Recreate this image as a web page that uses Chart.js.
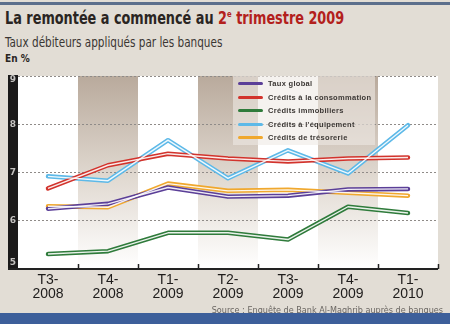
<!DOCTYPE html>
<html>
<head>
<meta charset="utf-8">
<script src="https://cdn.jsdelivr.net/npm/chart.js@4"></script>
<style>
  body { margin: 0; width: 450px; height: 324px; background: #e2ddd5; overflow: hidden; position: relative; font-family: "Liberation Sans", Arial, sans-serif; }
  #filet { position: absolute; left: 0; top: 2px; width: 450px; height: 3px; background: #5c6f8c; }
  #titre { position: absolute; left: 5px; top: 8px; font-family: "DejaVu Sans Condensed", sans-serif; font-weight: bold; font-size: 17px; color: #2a2522; white-space: nowrap; transform-origin: left top; transform: scaleX(0.84); }
  #titre span { color: #b3201c; }
  #titre sup { font-size: 9px; vertical-align: 7px; }
  #soustitre { position: absolute; left: 5px; top: 34px; font-family: "DejaVu Sans Condensed", sans-serif; font-size: 14px; color: #3a3633; white-space: nowrap; transform-origin: left top; transform: scaleX(0.83); }
  #unite { position: absolute; left: 5px; top: 53px; font-family: "DejaVu Sans Condensed", sans-serif; font-weight: bold; font-size: 10px; color: #2a2522; }
  #zone { position: absolute; left: 0; top: 70px; width: 450px; height: 240px; }
  #legende { position: absolute; left: 233px; top: 76px; width: 142px; height: 69px; background: rgba(238, 234, 228, 0.6); }
  .item { position: absolute; left: 5px; height: 12px; font-size: 7.5px; font-weight: bold; color: #3b3734; letter-spacing: 0.3px; white-space: nowrap; }
  .item i { display: inline-block; width: 25px; height: 3px; border-radius: 2px; margin-right: 5px; vertical-align: 1px; }
  #source { position: absolute; right: 7px; top: 305px; font-family: "DejaVu Sans Condensed", sans-serif; font-size: 9px; color: #6a6662; white-space: nowrap; }
  #bandeau { position: absolute; left: 0; top: 313px; width: 450px; height: 11px; background: #3d5f9a; }
</style>
</head>
<body>
<div id="filet"></div>
<div id="titre">La remontée a commencé au <span>2<sup>e</sup> trimestre 2009</span></div>
<div id="soustitre">Taux débiteurs appliqués par les banques</div>
<div id="unite">En %</div>
<div id="zone"><canvas id="graphique" width="450" height="240"></canvas></div>
<div id="legende"></div>
<div id="source">Source : Enquête de Bank Al-Maghrib auprès de banques</div>
<div id="bandeau"></div>
<script>
const trimestres = [['T3-', '2008'], ['T4-', '2008'], ['T1-', '2009'], ['T2-', '2009'], ['T3-', '2009'], ['T4-', '2009'], ['T1-', '2010']];

const tauxGlobal = [6.25, 6.35, 6.69, 6.50, 6.52, 6.65, 6.66];
const creditsConsommation = [6.67, 7.15, 7.39, 7.29, 7.23, 7.29, 7.31];
const creditsImmobiliers = [5.31, 5.37, 5.75, 5.75, 5.61, 6.29, 6.16];
const creditsEquipement = [6.92, 6.83, 7.67, 6.88, 7.46, 6.98, 7.98];
const creditsTresorerie = [6.30, 6.28, 6.77, 6.62, 6.64, 6.58, 6.52];

const series = [
  { label: 'Taux global', data: tauxGlobal, couleur: '#5b3f98' },
  { label: 'Crédits à la consommation', data: creditsConsommation, couleur: '#d2332c' },
  { label: 'Crédits immobiliers', data: creditsImmobiliers, couleur: '#2f7b3b' },
  { label: 'Crédits à l\'équipement', data: creditsEquipement, couleur: '#5db9e8' },
  { label: 'Crédits de trésorerie', data: creditsTresorerie, couleur: '#f0a82e' }
];

// legende en html
const legende = document.getElementById('legende');
series.forEach((s, i) => {
  const d = document.createElement('div');
  d.className = 'item';
  d.style.top = (3 + i * 13.5) + 'px';
  d.innerHTML = '<i style="background:' + s.couleur + '"></i>' + s.label;
  legende.appendChild(d);
});

// fond : bandes grisees, axe noir, graduations
const fond = {
  id: 'fond',
  beforeDraw(chart) {
    const ctx = chart.ctx;
    const a = chart.chartArea;
    const x = chart.scales.x;
    const y = chart.scales.y;
    const pas = x.getPixelForValue(1) - x.getPixelForValue(0);
    ctx.save();
    ctx.fillStyle = '#fff';
    ctx.fillRect(a.left, a.top, a.right - a.left, a.bottom - a.top);
    const grad = ctx.createLinearGradient(0, a.top, 0, a.bottom);
    grad.addColorStop(0, '#b9aa9c');
    grad.addColorStop(0.55, '#e2dbd3');
    grad.addColorStop(1, '#ffffff');
    ctx.fillStyle = grad;
    for (let i = 1; i < trimestres.length; i += 2) {
      ctx.fillRect(x.getPixelForValue(i) - pas / 2, a.top, pas, a.bottom - a.top);
    }
    // bande noire de l'axe y
    ctx.fillStyle = '#1b1a1a';
    ctx.fillRect(8, a.top - 1, a.left - 8, a.bottom - a.top + 2);
    ctx.fillStyle = '#c4c2c0';
    ctx.font = 'bold 9px "DejaVu Sans"';
    ctx.textAlign = 'center';
    ctx.textBaseline = 'middle';
    for (let v = 5; v <= 9; v++) {
      const py = y.getPixelForValue(v) + (v === 5 ? -6 : v === 9 ? 4 : 0);
      ctx.fillText(String(v), 13, py);
    }
    ctx.restore();
  },
  afterDraw(chart) {
    const ctx = chart.ctx;
    const a = chart.chartArea;
    const x = chart.scales.x;
    const pas = x.getPixelForValue(1) - x.getPixelForValue(0);
    ctx.save();
    ctx.strokeStyle = '#222';
    ctx.lineWidth = 2;
    ctx.beginPath();
    ctx.moveTo(8, a.bottom);
    ctx.lineTo(a.right, a.bottom);
    ctx.stroke();
    ctx.lineWidth = 1.5;
    for (let i = 0; i < trimestres.length; i++) {
      const px = Math.round(x.getPixelForValue(i) + pas / 2) + 0.5;
      ctx.beginPath();
      ctx.moveTo(px, a.bottom - 5);
      ctx.lineTo(px, a.bottom);
      ctx.stroke();
    }
    ctx.restore();
  }
};

// trait double : filet blanc au centre de chaque courbe
const traitDouble = {
  id: 'traitDouble',
  afterDatasetsDraw(chart) {
    const ctx = chart.ctx;
    ctx.save();
    ctx.strokeStyle = 'rgba(255,255,255,0.9)';
    ctx.lineWidth = 1.4;
    ctx.lineJoin = 'round';
    chart.data.datasets.forEach((ds, i) => {
      const pts = chart.getDatasetMeta(i).data;
      ctx.beginPath();
      pts.forEach((p, j) => j === 0 ? ctx.moveTo(p.x, p.y) : ctx.lineTo(p.x, p.y));
      ctx.stroke();
    });
    ctx.restore();
  }
};

new Chart(document.getElementById('graphique'), {
  type: 'line',
  data: {
    labels: trimestres,
    datasets: series.map(s => ({
      label: s.label,
      data: s.data,
      borderColor: s.couleur,
      backgroundColor: s.couleur,
      borderWidth: 4.5,
      pointRadius: 0,
      tension: 0,
      borderJoinStyle: 'round',
      borderCapStyle: 'round'
    }))
  },
  options: {
    responsive: false,
    animation: false,
    devicePixelRatio: 1,
    layout: { padding: { left: 18, right: 12, top: 6, bottom: 5 } },
    plugins: {
      legend: { display: false },
      tooltip: { enabled: false }
    },
    scales: {
      x: {
        offset: true,
        grid: { display: false, drawTicks: false, tickLength: 0 },
        border: { display: false },
        ticks: {
          color: '#1e1c1b',
          font: { family: '"Liberation Sans", Arial', size: 14, lineHeight: 1.0 },
          padding: 4,
          maxRotation: 0
        }
      },
      y: {
        min: 5,
        max: 9,
        ticks: { display: false, stepSize: 1 },
        grid: { color: '#8f8b88', lineWidth: 1, drawTicks: false },
        border: { display: false, dash: [2, 2] }
      }
    }
  },
  plugins: [fond, traitDouble]
});
</script>
</body>
</html>
